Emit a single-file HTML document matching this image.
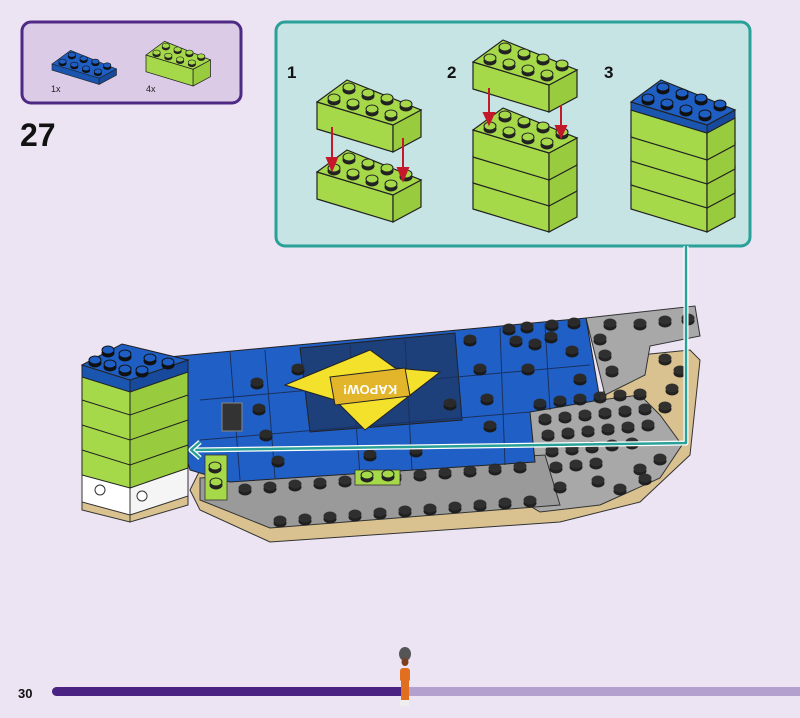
<!DOCTYPE html>
<html><head><meta charset="utf-8">
<style>
html,body{margin:0;padding:0;background:#ece3f3;}
body{width:800px;height:718px;overflow:hidden;position:relative;font-family:"Liberation Sans",sans-serif;}
</style></head>
<body>
<svg width="800" height="718" viewBox="0 0 800 718" xmlns="http://www.w3.org/2000/svg" style="position:absolute;left:0;top:0">
<defs>
 <g id="stud"><ellipse cx="0" cy="1" rx="6.5" ry="4.5" fill="#1a1a1a"/><ellipse cx="0" cy="-2" rx="6.5" ry="4.5" fill="#2a2a2a"/></g>
 <g id="gstud"><ellipse cx="0" cy="1" rx="6.5" ry="4.5" fill="#222"/><ellipse cx="0" cy="-2" rx="6" ry="4" fill="#a6d94a" stroke="#222" stroke-width="1"/></g>
 <g id="bstud"><ellipse cx="0" cy="1" rx="6.5" ry="4.5" fill="#111"/><ellipse cx="0" cy="-2" rx="6" ry="4" fill="#1f5fc4" stroke="#111" stroke-width="1"/></g>
 <g id="gtop">
  <polygon points="0,0 30,-22 104,8 76,23" fill="#a6d94a" stroke="#222" stroke-width="1.2"/>
  <use href="#gstud" x="17" y="-2"/><use href="#gstud" x="36" y="3"/><use href="#gstud" x="55" y="9"/><use href="#gstud" x="74" y="14"/>
  <use href="#gstud" x="32" y="-13"/><use href="#gstud" x="51" y="-7"/><use href="#gstud" x="70" y="-2"/><use href="#gstud" x="89" y="4"/>
 </g>
 <g id="btop">
  <polygon points="0,0 30,-22 104,8 76,23" fill="#1f5fc4" stroke="#222" stroke-width="1.2"/>
  <use href="#bstud" x="17" y="-2"/><use href="#bstud" x="36" y="3"/><use href="#bstud" x="55" y="9"/><use href="#bstud" x="74" y="14"/>
  <use href="#bstud" x="32" y="-13"/><use href="#bstud" x="51" y="-7"/><use href="#bstud" x="70" y="-2"/><use href="#bstud" x="89" y="4"/>
 </g>
 <g id="gbody">
  <polygon points="0,0 76,23 76,50 0,27" fill="#a6d94a" stroke="#222" stroke-width="1.2"/>
  <polygon points="76,23 104,8 104,35 76,50" fill="#98cc3e" stroke="#222" stroke-width="1.2"/>
 </g>
</defs>

<!-- parts box -->
<rect x="22" y="22" width="219" height="81" rx="9" fill="#dccbe6" stroke="#4f2a85" stroke-width="3"/>
<g transform="translate(52,64) scale(0.62)">
 <polygon points="0,0 30,-22 104,8 76,23" fill="#1f5fc4" stroke="#222"/>
 <polygon points="0,0 76,23 76,33 0,10" fill="#1a55b0" stroke="#222"/>
 <polygon points="76,23 104,8 104,18 76,33" fill="#174a9c" stroke="#222"/>
 <use href="#bstud" x="17" y="-2"/><use href="#bstud" x="36" y="3"/><use href="#bstud" x="55" y="9"/><use href="#bstud" x="74" y="14"/>
 <use href="#bstud" x="32" y="-13"/><use href="#bstud" x="51" y="-7"/><use href="#bstud" x="70" y="-2"/><use href="#bstud" x="89" y="4"/>
</g>
<g transform="translate(146,55) scale(0.62)"><use href="#gbody"/><use href="#gtop"/></g>
<text x="51" y="92" font-size="9" fill="#222">1x</text>
<text x="146" y="92" font-size="9" fill="#222">4x</text>
<text x="20" y="146" font-size="32" font-weight="bold" fill="#111">27</text>

<!-- callout -->
<rect x="276" y="22" width="474" height="224" rx="9" fill="#c5e4e3" stroke="#2aa198" stroke-width="3"/>
<text x="287" y="78" font-size="17" font-weight="bold" fill="#111">1</text>
<text x="447" y="78" font-size="17" font-weight="bold" fill="#111">2</text>
<text x="604" y="78" font-size="17" font-weight="bold" fill="#111">3</text>
<!-- step1 -->
<g transform="translate(317,172)"><use href="#gbody"/><use href="#gtop"/></g>
<g transform="translate(317,102)"><use href="#gbody"/><use href="#gtop"/></g>
<!-- step2 -->
<g transform="translate(473,182)"><use href="#gbody"/></g>
<g transform="translate(473,156)"><use href="#gbody"/></g>
<g transform="translate(473,130)"><use href="#gbody"/><use href="#gtop"/></g>
<g transform="translate(473,62)"><use href="#gbody"/><use href="#gtop"/></g>
<!-- step3 -->
<g transform="translate(631,182)"><use href="#gbody"/></g>
<g transform="translate(631,158)"><use href="#gbody"/></g>
<g transform="translate(631,134)"><use href="#gbody"/></g>
<g transform="translate(631,110)"><use href="#gbody"/></g>
<g transform="translate(631,102)">
 <polygon points="0,0 76,23 76,31 0,8" fill="#1a55b0" stroke="#222"/>
 <polygon points="76,23 104,8 104,16 76,31" fill="#174a9c" stroke="#222"/>
 <use href="#btop"/>
</g>
<!-- red arrows -->
<g stroke="#c4192b" stroke-width="2" fill="#c4192b">
 <line x1="332" y1="127" x2="332" y2="160"/><polygon points="327,158 337,158 332,170"/>
 <line x1="403" y1="138" x2="403" y2="170"/><polygon points="398,168 408,168 403,180"/>
 <line x1="489" y1="88" x2="489" y2="115"/><polygon points="484,113 494,113 489,124"/>
 <line x1="561" y1="105" x2="561" y2="128"/><polygon points="556,126 566,126 561,137"/>
</g>

<!-- main model -->
<!-- tan base -->
<polygon points="190,490 200,510 270,542 560,522 640,502 690,455 700,360 690,350 640,355 600,395 520,420 200,470" fill="#d9c28f" stroke="#333" stroke-width="1"/>
<!-- gray upper strip -->
<polygon points="586,318 695,306 700,336 650,346 645,375 605,395" fill="#a8a8a8" stroke="#333" stroke-width="1"/>
<!-- gray right region -->
<polygon points="520,410 640,395 660,415 682,445 660,478 600,505 540,512 520,500" fill="#a8a8a8" stroke="#333" stroke-width="1"/>
<!-- gray bottom rows -->
<polygon points="200,478 545,455 560,505 270,528 200,500" fill="#9a9a9a" stroke="#333" stroke-width="1"/>
<!-- blue plate -->
<polygon points="158,358 586,318 600,400 530,412 535,462 230,482 190,470" fill="#2060c6" stroke="#222" stroke-width="1"/>
<polygon points="300,348 455,333 462,420 310,432" fill="#1d3f7a" stroke="#222" stroke-width="1"/>
<g stroke="#1a3060" stroke-width="1" fill="none">
 <line x1="230" y1="352" x2="240" y2="480"/><line x1="265" y1="350" x2="275" y2="478"/>
 <line x1="350" y1="345" x2="360" y2="475"/><line x1="405" y1="340" x2="412" y2="470"/>
 <line x1="500" y1="328" x2="505" y2="465"/><line x1="545" y1="324" x2="550" y2="410"/>
 <line x1="200" y1="400" x2="590" y2="365"/><line x1="200" y1="440" x2="530" y2="412"/>
</g>
<!-- yellow star -->
<polygon points="285,385 370,350 395,368 440,372 365,430 335,400" fill="#f3e12b" stroke="#222" stroke-width="1"/>
<polygon points="330,377 405,368 410,396 335,405" fill="#e3b52a" stroke="#222" stroke-width="1"/>
<text x="370" y="395" font-size="13" font-weight="bold" fill="#fff" text-anchor="middle" transform="rotate(180 370 390)">KAPOW!</text>
<rect x="222" y="403" width="20" height="28" fill="#333" stroke="#888"/>
<!-- studs on blue -->
<g>
 <use href="#stud" x="257" y="384"/><use href="#stud" x="259" y="410"/><use href="#stud" x="266" y="436"/><use href="#stud" x="278" y="462"/>
 <use href="#stud" x="298" y="370"/><use href="#stud" x="450" y="405"/><use href="#stud" x="470" y="341"/><use href="#stud" x="480" y="370"/>
 <use href="#stud" x="487" y="400"/><use href="#stud" x="490" y="427"/><use href="#stud" x="528" y="370"/><use href="#stud" x="535" y="345"/>
 <use href="#stud" x="572" y="352"/><use href="#stud" x="580" y="380"/><use href="#stud" x="370" y="456"/><use href="#stud" x="416" y="452"/>
 <use href="#stud" x="509" y="330"/><use href="#stud" x="527" y="328"/><use href="#stud" x="552" y="326"/><use href="#stud" x="574" y="324"/>
 <use href="#stud" x="516" y="342"/><use href="#stud" x="551" y="338"/>
</g>
<!-- gray studs -->
<g opacity="0.95">
 <use href="#stud" x="610" y="325"/><use href="#stud" x="640" y="325"/><use href="#stud" x="665" y="322"/><use href="#stud" x="688" y="320"/>
 <use href="#stud" x="600" y="340"/><use href="#stud" x="605" y="356"/><use href="#stud" x="612" y="372"/>
 <use href="#stud" x="540" y="405"/><use href="#stud" x="560" y="402"/><use href="#stud" x="580" y="400"/><use href="#stud" x="600" y="398"/><use href="#stud" x="620" y="396"/><use href="#stud" x="640" y="395"/>
 <use href="#stud" x="545" y="420"/><use href="#stud" x="565" y="418"/><use href="#stud" x="585" y="416"/><use href="#stud" x="605" y="414"/><use href="#stud" x="625" y="412"/><use href="#stud" x="645" y="410"/><use href="#stud" x="665" y="408"/>
 <use href="#stud" x="548" y="436"/><use href="#stud" x="568" y="434"/><use href="#stud" x="588" y="432"/><use href="#stud" x="608" y="430"/><use href="#stud" x="628" y="428"/><use href="#stud" x="648" y="426"/>
 <use href="#stud" x="552" y="452"/><use href="#stud" x="572" y="450"/><use href="#stud" x="592" y="448"/><use href="#stud" x="612" y="446"/><use href="#stud" x="632" y="444"/>
 <use href="#stud" x="556" y="468"/><use href="#stud" x="576" y="466"/><use href="#stud" x="596" y="464"/><use href="#stud" x="640" y="470"/><use href="#stud" x="660" y="460"/>
 <use href="#stud" x="560" y="488"/><use href="#stud" x="598" y="482"/>
 <use href="#stud" x="220" y="492"/><use href="#stud" x="245" y="490"/><use href="#stud" x="270" y="488"/><use href="#stud" x="295" y="486"/><use href="#stud" x="320" y="484"/><use href="#stud" x="345" y="482"/><use href="#stud" x="395" y="478"/><use href="#stud" x="420" y="476"/><use href="#stud" x="445" y="474"/><use href="#stud" x="470" y="472"/><use href="#stud" x="495" y="470"/><use href="#stud" x="520" y="468"/>
 <use href="#stud" x="280" y="522"/><use href="#stud" x="305" y="520"/><use href="#stud" x="330" y="518"/><use href="#stud" x="355" y="516"/><use href="#stud" x="380" y="514"/><use href="#stud" x="405" y="512"/><use href="#stud" x="430" y="510"/><use href="#stud" x="455" y="508"/><use href="#stud" x="480" y="506"/><use href="#stud" x="505" y="504"/><use href="#stud" x="530" y="502"/>
 <use href="#stud" x="620" y="490"/><use href="#stud" x="645" y="480"/><use href="#stud" x="665" y="360"/><use href="#stud" x="680" y="372"/><use href="#stud" x="672" y="390"/>
</g>
<rect x="205" y="455" width="22" height="45" fill="#a6d94a" stroke="#333" stroke-width="0.8"/>
<use href="#gstud" x="215" y="468"/><use href="#gstud" x="216" y="484"/>
<rect x="355" y="470" width="45" height="15" fill="#a6d94a" stroke="#333" stroke-width="0.8"/>
<use href="#gstud" x="367" y="477"/><use href="#gstud" x="388" y="476"/>

<!-- green stack -->
<polygon points="82,478 130,490 130,522 82,510" fill="#d9c28f" stroke="#333"/>
<polygon points="130,490 188,470 188,505 130,522" fill="#d9c28f" stroke="#333"/>
<polygon points="82,470 130,483 130,515 82,502" fill="#fff" stroke="#333"/>
<polygon points="130,483 188,465 188,496 130,515" fill="#f5f5f5" stroke="#333"/>
<circle cx="100" cy="490" r="5" fill="#fff" stroke="#333"/><circle cx="142" cy="496" r="5" fill="#fff" stroke="#333"/>
<polygon points="82,375 130,390 130,488 82,475" fill="#a6d94a" stroke="#222"/>
<polygon points="130,390 188,370 188,468 130,488" fill="#98cc3e" stroke="#222"/>
<g stroke="#222" fill="none"><polyline points="82,400 130,415 188,395"/><polyline points="82,425 130,440 188,420"/><polyline points="82,450 130,465 188,445"/></g>
<polygon points="82,365 130,380 130,392 82,377" fill="#1a55b0" stroke="#222"/>
<polygon points="130,380 188,360 188,372 130,392" fill="#174a9c" stroke="#222"/>
<polygon points="82,365 122,344 188,360 130,380" fill="#1f5fc4" stroke="#222"/>
<use href="#bstud" x="95" y="362"/><use href="#bstud" x="110" y="366"/><use href="#bstud" x="125" y="371"/><use href="#bstud" x="142" y="372"/>
<use href="#bstud" x="108" y="352"/><use href="#bstud" x="125" y="356"/><use href="#bstud" x="150" y="360"/><use href="#bstud" x="168" y="364"/>

<!-- connector -->
<g fill="none" stroke-linejoin="round">
 <polyline points="686,246 686,443 192,450" stroke="#ffffff" stroke-width="5"/>
 <polyline points="686,246 686,443 192,450" stroke="#2aa198" stroke-width="2.5"/>
 <polyline points="200,442 191,450 200,458" stroke="#ffffff" stroke-width="5"/>
 <polyline points="200,442 191,450 200,458" stroke="#2aa198" stroke-width="2.5"/>
</g>

<!-- footer -->
<text x="18" y="698" font-size="13" font-weight="bold" fill="#111">30</text>
<rect x="52" y="687" width="760" height="9" rx="4.5" fill="#b3a0cf"/>
<rect x="52" y="687" width="350" height="9" rx="4.5" fill="#4a2282"/>
<rect x="390" y="687" width="12" height="9" fill="#4a2282"/>
<g>
 <ellipse cx="405" cy="654" rx="6" ry="7" fill="#555"/>
 <ellipse cx="405" cy="662" rx="3.5" ry="4" fill="#7a4020"/>
 <rect x="400" y="668" width="10" height="14" rx="3" fill="#e0701f"/>
 <rect x="401" y="681" width="8" height="20" fill="#e0701f"/>
 <rect x="400" y="700" width="9" height="6" fill="#eee"/>
</g>
</svg>
</body></html>
